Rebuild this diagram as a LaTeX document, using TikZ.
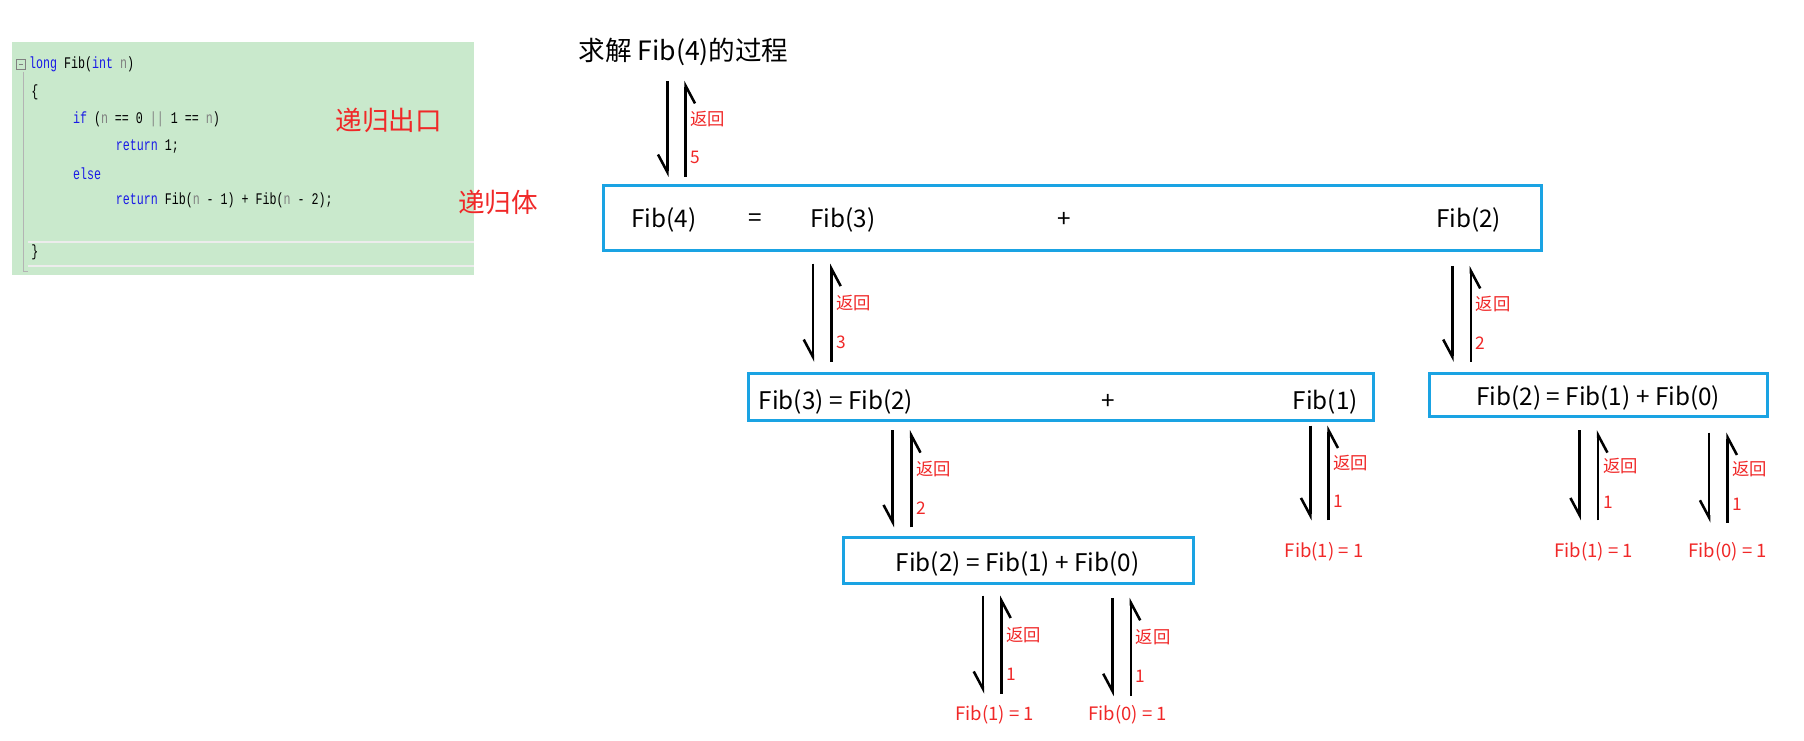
\documentclass[tikz,border=0pt]{standalone}
\usepackage{fontspec}
\setmainfont{Noto Sans CJK SC}
\newfontfamily\codef{Liberation Mono}
\usetikzlibrary{arrows.meta}
\definecolor{codebg}{HTML}{C9E9CC}
\definecolor{kw}{HTML}{1A1AE6}
\definecolor{gr}{HTML}{808080}
\definecolor{bx}{HTML}{1AA3E3}
\definecolor{rd}{HTML}{F02828}
\newcommand\kw[1]{\textcolor{kw}{#1}}
\newcommand\gn{\textcolor{gr}{n}}
\newcommand\rpair[6]{%
  \coordinate (#1a) at (#2,#3); \coordinate (#1b) at (#2,#4);
  \coordinate (#1c) at (#2+16,#3); \coordinate (#1d) at (#2+16,#4);
  \draw[harp] (#1a) -- (#1b);
  \draw[harp] (#1d) -- (#1c);
  \node[lbl,anchor=west] (#1l) at (#2+20,{#3+0.4*(#4-#3)}) {返回};
  \node[lbl,anchor=west] (#1n) at (#2+20,{#3+0.8*(#4-#3)}) {#6};
}
\begin{document}
\begin{tikzpicture}[x=1pt,y=-1pt,
  harp/.style={line width=2.2pt,-{Straight Barb[right,length=15pt,width=16pt]}},
  lbl/.style={text=rd,font=\fontsize{15}{15}\selectfont,inner sep=0pt},
  res/.style={text=rd,font=\fontsize{16}{16}\selectfont,inner sep=0pt},
  fbox/.style={draw=bx,line width=2.6pt,inner sep=0pt},
  ft/.style={font=\fontsize{21}{21}\selectfont,inner sep=0pt},
  code/.style={font=\codef\fontsize{14}{14}\selectfont,anchor=west,inner sep=0pt,xscale=0.72}]
\useasboundingbox (0,0) rectangle (1560,640);
% code panel
\fill[codebg] (10,36) rectangle (410,238);
\draw[gr!60,line width=0.6pt] (20,62) -- (20,235) -- (24,235);
\draw[white!85!gray,line width=2pt] (24,209) -- (410,209);
\draw[white!85!gray,line width=2pt] (24,230) -- (410,230);
\draw[gr,line width=0.5pt] (14,51) rectangle (22,60); \draw[gr,line width=0.5pt] (16,55.5) -- (20,55.5);
\node[code] (c1) at (25,56) {\kw{long} Fib(\kw{int} \gn)};
\node[code] (c2) at (27,80) {\{};
\node[code] (c3) at (63,103) {\kw{if} (\gn{} == 0 \textcolor{gr}{||} 1 == \gn)};
\node[code] (c4) at (100,127) {\kw{return} 1;};
\node[code] (c5) at (63,150) {\kw{else}};
\node[code] (c6) at (100,173) {\kw{return} Fib(\gn{} - 1) + Fib(\gn{} - 2);};
\node[code] (c7) at (27,218) {\}};
\node[text=rd,font=\fontsize{23}{23}\selectfont,anchor=west,inner sep=0pt] (exit) at (290,104) {递归出口};
\node[text=rd,font=\fontsize{23}{23}\selectfont,anchor=west,inner sep=0pt] (body) at (396,175) {递归体};
% title
\node[font=\fontsize{23}{23}\selectfont,anchor=west,inner sep=0pt] (title) at (500,45) {求解 Fib(4)的过程};
% box 1
\node[fbox,minimum width=811,minimum height=57] (b1) at (927.5,188.5) {};
\node[ft] at (574,190) {Fib(4)}; \node[ft] at (653,190) {=}; \node[ft] at (729,190) {Fib(3)};
\node[ft] at (920,190) {+}; \node[ft] at (1270,190) {Fib(2)};
% box 2
\node[fbox,minimum width=541,minimum height=41] (b2) at (917.5,343.5) {};
\node[ft,anchor=west] at (656,348) {Fib(3) = Fib(2)}; \node[ft] at (958,348) {+}; \node[ft] at (1146,348) {Fib(1)};
% box 3
\node[fbox,minimum width=292,minimum height=37] (b3) at (1382,341.5) {};
\node[ft] at (1382,344) {Fib(2) = Fib(1) + Fib(0)};
% box 4
\node[fbox,minimum width=303,minimum height=40] (b4) at (880.5,485) {};
\node[ft] at (880,488) {Fib(2) = Fib(1) + Fib(0)};
% arrows
\rpair{p1}{577}{70}{153}{}{5}
\rpair{p2}{703}{228}{313}{}{3}
\rpair{p3}{1256}{230}{313}{}{2}
\rpair{p4}{772}{372}{456}{}{2}
\rpair{p5}{1133}{368}{450}{}{1}
\rpair{p6}{1366}{372}{450}{}{1}
\rpair{p7}{1478}{374}{452}{}{1}
\rpair{p8}{850}{515}{600}{}{1}
\rpair{p9}{962}{517}{602}{}{1}
% results
\node[res] (r1) at (1145,477) {Fib(1) = 1};
\node[res] (r2) at (1378,477) {Fib(1) = 1};
\node[res] (r3) at (1494,477) {Fib(0) = 1};
\node[res] (r4) at (860,618) {Fib(1) = 1};
\node[res] (r5) at (975,618) {Fib(0) = 1};
\end{tikzpicture}
\end{document}
